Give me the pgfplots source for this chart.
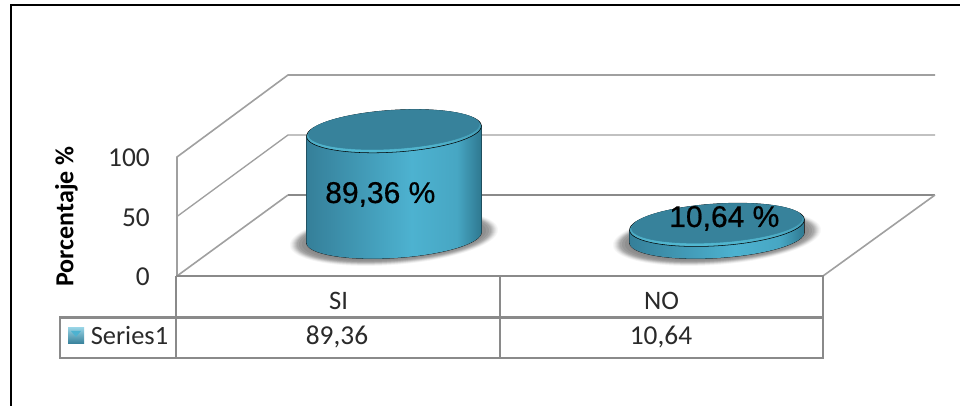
\documentclass[border=0pt]{standalone}
\usepackage{pgfplots}
\pgfplotsset{compat=1.18}
\usepackage{fontspec}
\setmainfont{Carlito}
\newfontfamily\lab[FakeBold=0.6]{Liberation Sans}
\definecolor{wall}{HTML}{A0A0A0}
\definecolor{tbl}{HTML}{8A8A8A}
\definecolor{txt}{HTML}{2A2A2A}
\definecolor{sideA}{HTML}{357F99}
\definecolor{sideB}{HTML}{4DB2D0}
\definecolor{sideC}{HTML}{2F7890}
\definecolor{capC}{HTML}{37829B}
\definecolor{rimC}{HTML}{55BDD6}
\pgfdeclarehorizontalshading{cylside}{100bp}{color(0bp)=(sideA); color(25bp)=(sideA); color(55bp)=(sideB); color(68bp)=(sideB!80!sideC); color(75bp)=(sideC); color(100bp)=(sideC)}
\pgfdeclareplotmark{nothing}{}
\newcommand\tilted[3]{% tilt angle, centre height, body
  \begin{scope}\pgftransformshift{\pgfpoint{0pt}{#2*0.75pt}}\pgftransformrotate{#1}#3\end{scope}}
\newcommand\drawcyl{%
  \pgfmathsetmacro\H{1.19*\cylval}%
  \tilted{4.5}{-\H}{%
    \foreach \r/\q/\g in {104/27/3,103/26.5/6,102/26/10,101/25.5/15,100/25/20,99/24.5/25,98/24/30,97/23.5/35,95/23/40,92/22/44,88/21/46}{%
      \fill[black!\g] (0,0) ellipse[x radius=\r,y radius=\q];}}
  \tilted{3.6}{-\H}{%
    \clip (-87.6,0) arc[start angle=180,end angle=360,x radius=87.6,y radius=20.5]
      -- (87.6+.0628*\H,.998*\H) -- (-87.6+.0628*\H,.998*\H) -- cycle;
    \pgftransformrotate{-3.6}%
    \shade[shading=cylside] (-87.5,-30) rectangle (87.5,\H+30);}
  \tilted{3.6}{0}{%
    \shade[top color=capC,bottom color=rimC] (0,0) ellipse[x radius=87.6,y radius=21];
    \fill[capC] (0,1.6) ellipse[x radius=85.5,y radius=19.2];}
}
\begin{document}
\begin{tikzpicture}
\begin{scope}[x=.75pt,y=-.75pt,shift={(0pt,304.5pt)}]
  \useasboundingbox (0,0) rectangle (960,406);
  \fill[white] (0,0) rectangle (960,406);
  % outer frame
  \draw[black,line width=1.6pt] (10.7,406) -- (10.7,5) -- (960,5);
  % walls and floor
  \draw[wall,line width=1.2pt] (177,276) -- (177,157) -- (288,75) -- (935,75);
  \draw[wall,line width=1pt] (177,216.5) -- (288,135) -- (935,135);
  \draw[wall,line width=1.2pt] (177,276) -- (288,195);
  \draw[tbl,line width=1.4pt] (288,195) -- (935,195);
  \draw[wall,line width=1.2pt] (823,276) -- (935,195);
  % data table
  \draw[tbl,line width=1.6pt] (176,276) -- (823,276) -- (823,358) -- (60,358) -- (60,317.5) -- (823,317.5);
  \draw[tbl,line width=1.6pt] (176,276) -- (176,358);
  \draw[tbl,line width=1.6pt] (500,276) -- (500,358);
  \shade[top color=sideB!60!white,bottom color=sideA] (68,328) rectangle (84,344);
  \fill[sideB] (71,331) -- (81,331) -- (76,337) -- cycle;
  \node[anchor=base west,inner sep=0pt,text=txt,font=\fontsize{19.8pt}{22pt}\selectfont] at (90.5,345) {Series1};
  \node[anchor=base,inner sep=0pt,text=txt,font=\fontsize{20.5pt}{22pt}\selectfont] at (337,345) {89,36};
  \node[anchor=base,inner sep=0pt,text=txt,font=\fontsize{20.5pt}{22pt}\selectfont] at (661,345) {10,64};
\end{scope}
\begin{axis}[
  at={(132.75pt,97.5pt)},anchor=south west,
  scale only axis,width=484.5pt,height=89.25pt,
  xmin=-0.5,xmax=1.5,ymin=0,ymax=100,
  clip=false,
  axis line style={draw=none},
  major tick length=0pt,
  xtick={0,1},xticklabels={SI,NO},
  ytick={0,50,100},
  /pgf/number format/assume math mode=true,
  xticklabel style={anchor=base,inner sep=0pt,yshift=-25.5pt,text=txt,font=\fontsize{20pt}{22pt}\selectfont},
  yticklabel style={anchor=base east,inner sep=0pt,xshift=-20.25pt,yshift=-7.5pt,text=txt,font=\fontsize{20.5pt}{22pt}\selectfont},
  every axis y label/.style={at={([xshift=-83pt]rel axis cs:0,0.5)},rotate=90,anchor=center,text=black,font=\bfseries\fontsize{19.5pt}{22pt}\selectfont},
  ylabel={Porcentaje \%},
]
\addplot[only marks,mark=nothing,scatter,point meta=y,
  visualization depends on={rawy \as \cylval},
  scatter/@pre marker code/.code={\pgftransformshift{\pgfpoint{41.6pt}{28.9pt}}\scope[x=.75pt,y=.75pt]\drawcyl\endscope\scope},
  scatter/@post marker code/.code={\endscope},
] coordinates {(0,89.36) (1,10.64)};
\end{axis}
\begin{scope}[x=.75pt,y=-.75pt,shift={(0pt,304.5pt)}]
  \node[anchor=base west,inner sep=0pt,font=\lab\fontsize{22.5pt}{26pt}\selectfont] at (325,203) {89,36 \%};
  \node[anchor=base west,inner sep=0pt,font=\lab\fontsize{22.5pt}{26pt}\selectfont] at (669,227) {10,64 \%};
\end{scope}
\end{tikzpicture}
\end{document}
